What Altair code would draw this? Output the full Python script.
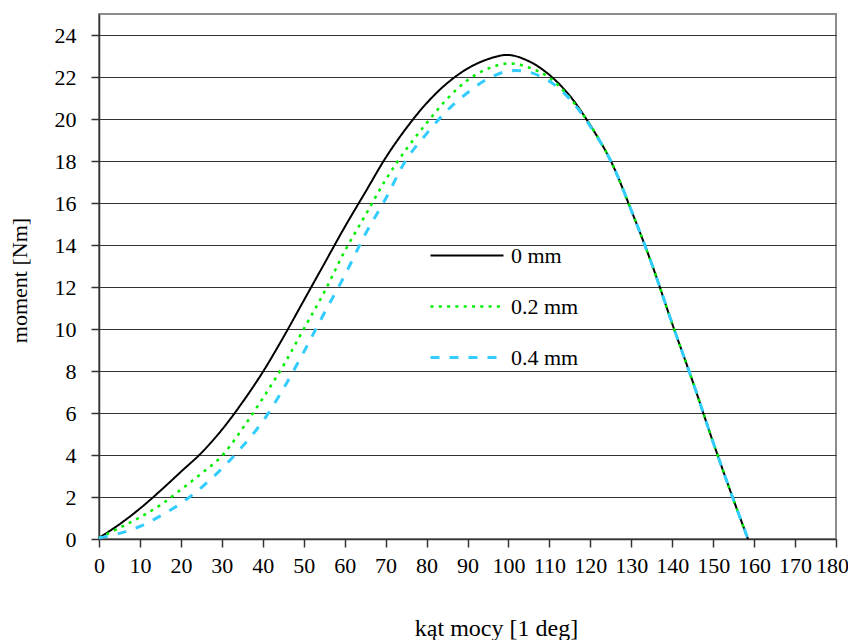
import altair as alt
import pandas as pd

# --- data ---
angle = [0, 5, 10, 15, 20, 25, 30, 35, 40, 45, 50, 55, 60, 65, 70, 75, 80, 85, 90, 95,
         100, 105, 110, 115, 120, 125, 130, 135, 140, 145, 150, 155, 158.5]
moment_0 = [0.05, 0.7, 1.45, 2.3, 3.2, 4.1, 5.2, 6.5, 7.95, 9.6, 11.35, 13.1, 14.85, 16.5,
            18.15, 19.55, 20.75, 21.7, 22.4, 22.85, 23.05, 22.75, 22.1, 21.1, 19.7, 18.0,
            15.65, 13.1, 10.25, 7.5, 4.6, 1.85, 0.0]
moment_02 = [0.05, 0.53, 1.03, 1.62, 2.35, 3.12, 3.95, 5.25, 6.7, 8.25, 10.0, 11.75, 13.7,
             15.4, 17.1, 18.55, 19.8, 20.95, 21.85, 22.4, 22.65, 22.45, 21.97, 21.0, 19.7,
             18.0, 15.65, 13.1, 10.25, 7.5, 4.6, 1.85, 0.0]
moment_04 = [0.05, 0.27, 0.6, 1.1, 1.7, 2.45, 3.35, 4.4, 5.6, 7.15, 8.9, 10.75, 12.55, 14.5,
             16.2, 18.05, 19.3, 20.4, 21.25, 21.92, 22.28, 22.23, 21.8, 20.95, 19.65, 18.0,
             15.65, 13.1, 10.25, 7.5, 4.6, 1.85, 0.0]
series = ["0 mm", "0.2 mm", "0.4 mm"]
x_ticks = list(range(0, 181, 10))
y_ticks = list(range(0, 25, 2))

rows = []
for name, vals in zip(series, [moment_0, moment_02, moment_04]):
    for a, v in zip(angle, vals):
        rows.append({"angle": a, "moment": v, "series": name})
df = pd.DataFrame(rows)

FONT = "Times New Roman, Liberation Serif, serif"
colors = ["#000000", "#00ee00", "#33ccff"]
dashes = [[1, 0], [3, 5.3], [9, 10]]
widths = [2, 3, 2.5]

chart = alt.Chart(df).mark_line(interpolate="catmull-rom", strokeCap="butt").encode(
    x=alt.X("angle:Q",
            scale=alt.Scale(domain=[0, 180], nice=False, zero=False),
            axis=alt.Axis(values=x_ticks, title="kąt mocy [1 deg]", grid=False,
                          labelOverlap=False, labelFlush=False, tickSize=8, labelPadding=8,
                          labelOffset={"condition": {"test": "datum.value == 180", "value": -4},
                                       "value": 0},
                          titleX=397, titleY=96, titleAlign="center",
                          titleBaseline="alphabetic", titleFontSize=24)),
    y=alt.Y("moment:Q",
            scale=alt.Scale(domain=[0, 25], nice=False),
            axis=alt.Axis(values=y_ticks, title="moment [Nm]", grid=True, tickSize=8,
                          labelPadding=15, titleX=-80, titleY=266, titleAlign="center",
                          titleBaseline="middle", titleAngle=-90, titleFontSize=22)),
    color=alt.Color("series:N", scale=alt.Scale(domain=series, range=colors),
                    legend=alt.Legend(title=None)),
    strokeDash=alt.StrokeDash("series:N", scale=alt.Scale(domain=series, range=dashes),
                              legend=alt.Legend(title=None)),
    strokeWidth=alt.StrokeWidth("series:N", scale=alt.Scale(domain=series, range=widths),
                                legend=alt.Legend(title=None)),
).properties(
    width=737, height=525,
    autosize=alt.AutoSizeParams(type="none"),
    padding={"left": 91, "top": 6, "right": 12, "bottom": 101},
).configure_view(
    stroke="#8c8c8c", strokeWidth=2
).configure_axis(
    labelFont=FONT, labelFontSize=22, labelColor="#000000",
    titleFont=FONT, titleFontWeight="normal", titleColor="#000000",
    domainColor="#333333", domainWidth=1.5, tickColor="#333333", tickWidth=1.5,
    gridColor="#333333", gridWidth=1.2, gridOpacity=1,
).configure_legend(
    orient="none", legendX=330, legendY=216, padding=0,
    symbolType="stroke", symbolSize=5329, symbolOffset=0,
    clipHeight=51, rowPadding=0, labelOffset=6,
    labelFont=FONT, labelFontSize=22, labelColor="#000000", labelLimit=300,
)

chart.save("out.html", embed_options={"renderer": "svg", "actions": False})
